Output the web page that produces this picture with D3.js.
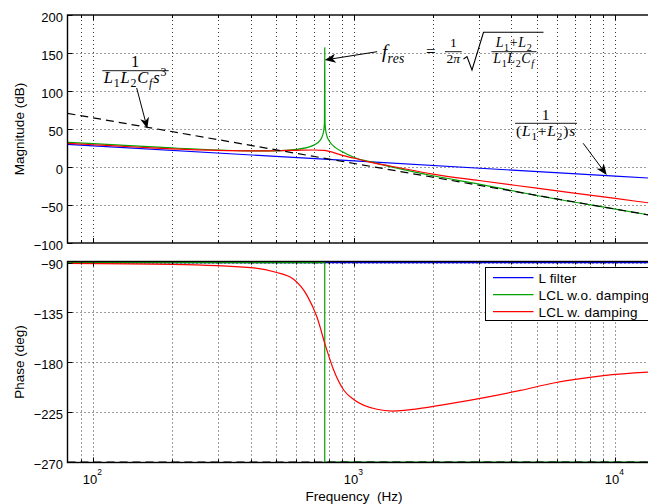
<!DOCTYPE html>
<html>
<head>
<meta charset="utf-8">
<script src="https://cdn.jsdelivr.net/npm/d3@7"></script>
<style>
  html, body { margin: 0; padding: 0; background: #fff; }
  svg { display: block; }
  text { font-family: "Liberation Sans", Arial, Helvetica, sans-serif; fill: #000; }
  .math { font-family: "Liberation Serif", "Times New Roman", serif; }
</style>
</head>
<body>
<svg id="chart" width="648" height="504"></svg>
<script>
// ---- axis settings ----
const freqDomain = [79.58, 15915];          // Hz
const magDomain = [-100, 200];              // dB
const phaseDomain = [-270, -90];            // deg
const freqMajorTicks = [100, 1000, 10000];
const freqTickExponents = ["2", "3", "4"];
const magTicks = [-100, -50, 0, 50, 100, 150, 200];
const phaseTicks = [-270, -225, -180, -135, -90];

// ---- L filter ----
const lFreq = [79.58, 100, 1000, 10000, 15915];
const lMag = [29.8, 27.8, 8.0, -12.0, -16.0];
const lPhase = [-90, -90, -90, -90, -90];

// ---- LCL without damping ----
const lclFreq = [79.58, 100, 200, 300, 400, 500, 600, 700, 740, 755, 765, 768, 770,
                 772, 775, 785, 800, 850, 900, 1000, 1200, 1500, 2000, 3000, 5000, 10000, 15915];
const lclMag = [32.5, 30.7, 25.1, 22.4, 21.2, 21.3, 23.1, 28.8, 35.4, 41.2, 50.6, 58.4, 157,
                58.4, 50.4, 40.7, 34.5, 25.2, 20.0, 12.5, 5.5, -2.5, -11.5, -22.5, -37.5, -55.5, -67.3];
const lclPhaseFreq = [79.58, 770, 770, 15915];
const lclPhase = [-90, -90, -270, -270];

// ---- LCL with damping ----
const lcldFreq = [79.58, 100, 150, 200, 300, 400, 500, 600, 700, 760, 800, 900, 1000, 1150,
                  1500, 2000, 3000, 5000, 10000, 15915];
const lcldMag = [31.2, 29.3, 26.0, 23.9, 21.8, 21.2, 21.4, 22.0, 22.4, 21.8, 20.6, 15.2, 11.5, 6.5,
                 -1.3, -9.3, -17.8, -27.8, -41.4, -50.5];
const lcldPhaseFreq = [79.58, 200, 400, 500, 585, 660, 720, 775, 833, 910, 1000, 1220, 1400,
                       1740, 2330, 3225, 4324, 5800, 9000, 15915];
const lcldPhase = [-90.7, -91.6, -94.5, -98.7, -105, -120, -139.5, -165, -187, -205, -214, -222.4, -224,
                   -222, -217.3, -211.4, -205.4, -198.7, -192, -188];

// ---- third-order asymptote 1/(L1 L2 Cf s^3) ----
const asymFreq = [79.58, 1000, 10000, 15915];
const asymMag = [70.6, 4.6, -55.4, -67.5];
const asymPhase = [-270, -270, -270, -270];

// ---- legend ----
const legendLabels = ["L filter", "LCL w.o. damping", "LCL w. damping"];
const seriesColors = ["#0000ff", "#00a400", "#ff0000"];

const zip = (a, b) => a.map((v, i) => [v, b[i]]);

const svg = d3.select("#chart");
const plotLeft = 67.5, plotRight = 668;
const magBox = { top: 15, bottom: 243 };
const phBox = { top: 261.5, bottom: 462.5 };

const x = d3.scaleLog().domain(freqDomain).range([plotLeft, plotRight]);
const yMag = d3.scaleLinear().domain(magDomain).range([magBox.bottom, magBox.top]);
const yPh = d3.scaleLinear().domain(phaseDomain).range([462, 262.6]);

const defs = svg.append("defs");
[["clipMag", magBox], ["clipPh", phBox]].forEach(([id, b]) => {
  defs.append("clipPath").attr("id", id).append("rect")
    .attr("x", plotLeft).attr("y", b.top).attr("width", plotRight - plotLeft).attr("height", b.bottom - b.top);
});

const allXTicks = x.ticks().filter(t => x(t) > plotLeft + 1.5);

function drawPanel(box, y, yTicks) {
  const g = svg.append("g");
  // dotted grid
  const grid = g.append("g").attr("stroke", "#3a3a3a").attr("stroke-width", 1).attr("stroke-dasharray", "1,3");
  allXTicks.forEach(t => {
    const px = Math.round(x(t)) + 0.5;
    grid.append("line").attr("x1", px).attr("x2", px).attr("y1", box.top + 1).attr("y2", box.bottom - 1);
  });
  yTicks.forEach(t => {
    const py = Math.round(y(t)) + 0.5;
    if (py < box.top + 2 || py > box.bottom - 2) return;
    grid.append("line").attr("x1", plotLeft + 1).attr("x2", plotRight).attr("y1", py).attr("y2", py);
  });
  return g;
}

function drawFrame(box, y, yTicks) {
  const g = svg.append("g");
  g.append("rect").attr("x", plotLeft).attr("y", box.top)
    .attr("width", plotRight - plotLeft + 10).attr("height", box.bottom - box.top)
    .attr("fill", "none").attr("stroke", "#000").attr("stroke-width", 1.4);
  const tk = g.append("g").attr("stroke", "#000").attr("stroke-width", 1);
  allXTicks.forEach(t => {
    const major = freqMajorTicks.includes(t);
    const len = major ? 5 : 3;
    const px = Math.round(x(t)) + 0.5;
    tk.append("line").attr("x1", px).attr("x2", px).attr("y1", box.bottom).attr("y2", box.bottom - len);
    tk.append("line").attr("x1", px).attr("x2", px).attr("y1", box.top).attr("y2", box.top + len);
  });
  yTicks.forEach(t => {
    const py = Math.round(y(t)) + 0.5;
    tk.append("line").attr("x1", plotLeft).attr("x2", plotLeft + 5).attr("y1", py).attr("y2", py);
  });
  const fmt = d3.format("d");
  yTicks.forEach(t => {
    g.append("text").attr("x", 63).attr("y", y(t)).attr("dy", "0.5em")
      .attr("text-anchor", "end").attr("font-size", 13).text(fmt(t));
  });
}

drawPanel(magBox, yMag, magTicks);
drawPanel(phBox, yPh, phaseTicks);

// ---- curves ----
const smooth = (y) => d3.line().x(d => x(d[0])).y(d => y(d[1])).curve(d3.curveMonotoneX);
const straight = (y) => d3.line().x(d => x(d[0])).y(d => y(d[1]));

const magG = svg.append("g").attr("clip-path", "url(#clipMag)").attr("fill", "none").attr("stroke-width", 1.2);
magG.append("path").attr("d", straight(yMag)(zip(lFreq, lMag))).attr("stroke", seriesColors[0]);
magG.append("path").attr("d", smooth(yMag)(zip(lclFreq, lclMag))).attr("stroke", seriesColors[1]);
magG.append("path").attr("d", smooth(yMag)(zip(lcldFreq, lcldMag))).attr("stroke", seriesColors[2]);
magG.append("path").attr("d", straight(yMag)(zip(asymFreq, asymMag))).attr("stroke", "#000")
  .attr("stroke-dasharray", "8,5");

const phG = svg.append("g").attr("clip-path", "url(#clipPh)").attr("fill", "none").attr("stroke-width", 1.2);
phG.append("path").attr("d", straight(yPh)(zip(lFreq, lPhase))).attr("stroke", seriesColors[0]);
phG.append("path").attr("d", straight(yPh)(zip(lclPhaseFreq, lclPhase))).attr("stroke", seriesColors[1]);
phG.append("path").attr("d", smooth(yPh)(zip(lcldPhaseFreq, lcldPhase))).attr("stroke", seriesColors[2]);
phG.append("path").attr("d", straight(yPh)(zip(asymFreq, asymPhase))).attr("stroke", "#000")
  .attr("stroke-dasharray", "8,5");

drawFrame(magBox, yMag, magTicks);
drawFrame(phBox, yPh, phaseTicks);

// ---- x tick labels (powers of ten) ----
freqMajorTicks.forEach((t, i) => {
  const tx = svg.append("text").attr("x", x(t) - 1).attr("y", 483.5).attr("text-anchor", "middle").attr("font-size", 13);
  tx.append("tspan").text("10");
  tx.append("tspan").attr("dy", -8.5).attr("font-size", 8.5).text(freqTickExponents[i]);
});

// ---- axis titles ----
svg.append("text").attr("transform", `translate(24,${(magBox.top + magBox.bottom) / 2}) rotate(-90)`)
  .attr("text-anchor", "middle").attr("font-size", 13.5).text("Magnitude (dB)");
svg.append("text").attr("transform", `translate(24,${(phBox.top + phBox.bottom) / 2}) rotate(-90)`)
  .attr("text-anchor", "middle").attr("font-size", 13.5).text("Phase (deg)");
svg.append("text").attr("x", 354).attr("y", 501).attr("text-anchor", "middle")
  .attr("font-size", 13.5).attr("xml:space", "preserve").text("Frequency  (Hz)");

// ---- legend ----
const leg = svg.append("g");
leg.append("rect").attr("x", 485.5).attr("y", 267.5).attr("width", 200).attr("height", 53)
  .attr("fill", "#fff").attr("stroke", "#000").attr("stroke-width", 1);
legendLabels.forEach((lab, i) => {
  const ly = 277.7 + i * 17;
  leg.append("line").attr("x1", 493).attr("x2", 533.5).attr("y1", ly).attr("y2", ly)
    .attr("stroke", seriesColors[i]).attr("stroke-width", 1.2);
  leg.append("text").attr("x", 538.5).attr("y", ly).attr("dy", "0.36em").attr("font-size", 13.5)
    .attr("letter-spacing", 0.2).text(lab);
});

// ---- math annotations ----
// parts: [string, style]; style: "i" italic, "r" upright, "si"/"sr" subscript, "pr" superscript
function mathText(g, px, py, parts, size, anchor, spacing) {
  const t = g.append("text").attr("class", "math").attr("x", px).attr("y", py)
    .attr("font-size", size).attr("text-anchor", anchor || "start")
    .attr("letter-spacing", spacing || 0);
  let shift = 0;
  parts.forEach(([s, st]) => {
    const sub = st === "si" || st === "sr";
    const sup = st === "pr";
    const target = sub ? size * 0.28 : sup ? -size * 0.42 : 0;
    t.append("tspan").attr("dy", target - shift)
      .attr("font-size", sub || sup ? size * 0.72 : size)
      .attr("font-style", (st === "i" || st === "si") ? "italic" : "normal")
      .text(s);
    shift = target;
  });
  return t;
}

function fraction(g, cx, barY, num, den, size, numBase, denBase, spacing) {
  const n = mathText(g, cx, numBase, num, size, "middle", spacing);
  const d = mathText(g, cx, denBase, den, size, "middle", spacing);
  const w = Math.max(n.node().getBBox().width, d.node().getBBox().width) + 2;
  g.append("line").attr("x1", cx - w / 2).attr("x2", cx + w / 2).attr("y1", barY).attr("y2", barY)
    .attr("stroke", "#000").attr("stroke-width", 0.9);
  return w;
}

const ann = svg.append("g");
const L1 = [["L", "i"], ["1", "sr"]], L2 = [["L", "i"], ["2", "sr"]], Cf = [["C", "i"], ["f", "si"]];

// 1 / (L1 L2 Cf s^3)
fraction(ann, 135.5, 70.7, [["1", "r"]], [...L1, ...L2, ...Cf, ["s", "i"], ["3", "pr"]], 16.5, 66.7, 82.7, 0.8);

// f_res = 1/(2 pi) sqrt((L1+L2)/(L1 L2 Cf))
mathText(ann, 382, 58, [["f", "i"], ["res", "si"]], 19, "start", 0.3);
mathText(ann, 426, 57, [["=", "r"]], 17);
fraction(ann, 453.3, 51.7, [["1", "r"]], [["2", "r"], ["π", "i"]], 13.5, 47, 63.3);
ann.append("path").attr("d", "M463.5,59 L467,56.5 L472,70 L483.5,32.3 L543.5,32.3")
  .attr("fill", "none").attr("stroke", "#000").attr("stroke-width", 1.1);
fraction(ann, 514, 51.7, [...L1, ["+", "r"], ...L2], [...L1, ...L2, ...Cf], 14, 46.7, 63.3, 0.6);

// 1 / ((L1+L2) s)
fraction(ann, 546, 123.3, [["1", "r"]], [["(", "r"], ...L1, ["+", "r"], ...L2, [")", "r"], ["s", "i"]], 15.5, 120, 135.5, 0.8);

// arrows, anchored in data coordinates
const arrows = [
  { from: [146.5, 104], to: [161, 50.5] },
  { from: [1222, 151.7], to: [770, 140.8] },
  { from: [7530, 31.2], to: [9270, -10.5] }
];
arrows.forEach(a => {
  const x0 = x(a.from[0]), y0 = yMag(a.from[1]);
  const x1 = x(a.to[0]), y1 = yMag(a.to[1]);
  const ang = Math.atan2(y1 - y0, x1 - x0);
  const hl = 11, hw = 4.5, notch = 8;
  const ux = Math.cos(ang), uy = Math.sin(ang);
  ann.append("line").attr("x1", x0).attr("y1", y0)
    .attr("x2", x1 - ux * notch).attr("y2", y1 - uy * notch)
    .attr("stroke", "#000").attr("stroke-width", 1);
  const bx = x1 - ux * hl, by = y1 - uy * hl;
  const pts = [
    [x1, y1],
    [bx - uy * hw, by + ux * hw],
    [x1 - ux * notch, y1 - uy * notch],
    [bx + uy * hw, by - ux * hw]
  ];
  ann.append("path").attr("d", "M" + pts.map(p => p.join(",")).join("L") + "Z").attr("fill", "#000");
});
</script>
</body>
</html>
